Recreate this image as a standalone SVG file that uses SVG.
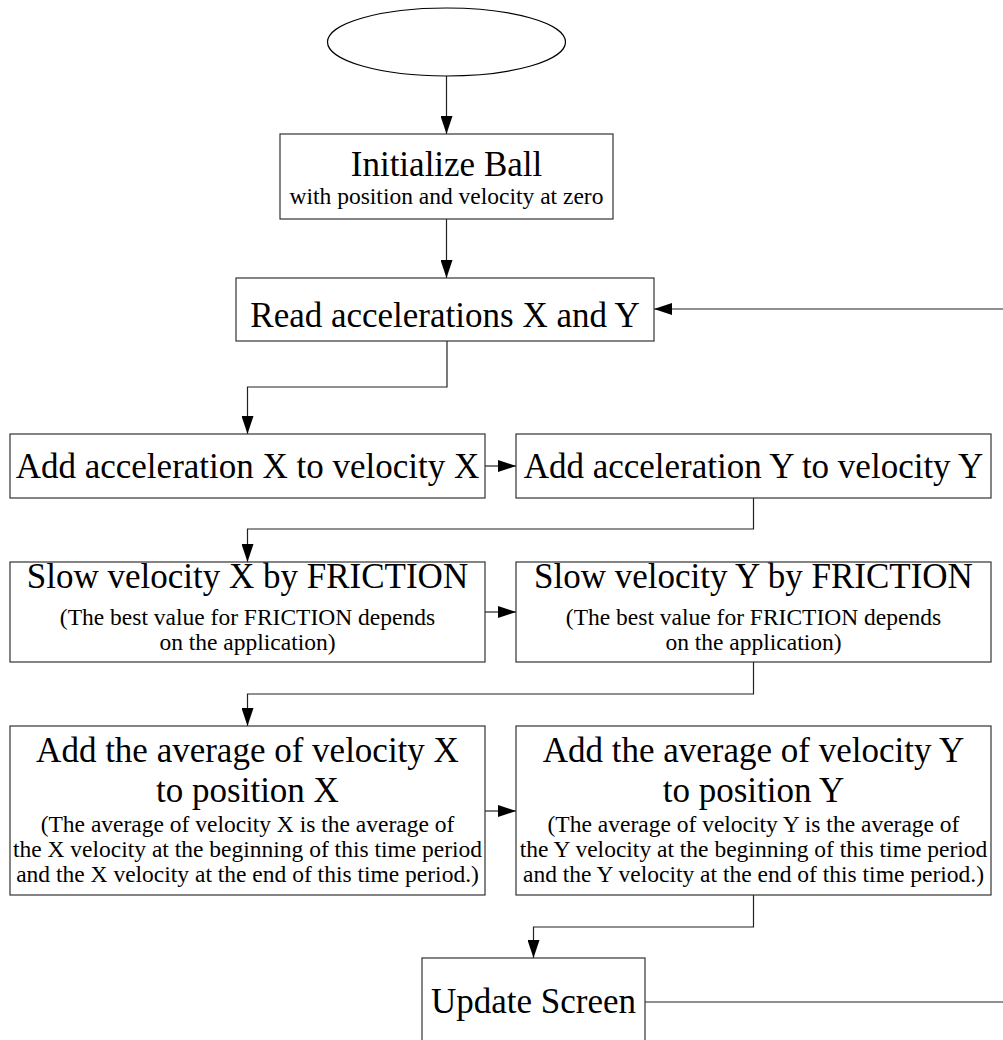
<svg xmlns="http://www.w3.org/2000/svg" width="1003" height="1040" viewBox="0 0 1003 1040">
<style>
.box{fill:#fff;stroke:#333;stroke-width:1.2}
.big{font-family:"Liberation Serif","Times New Roman",serif;font-size:35px;fill:#000;text-anchor:middle}
.small{font-family:"Liberation Serif","Times New Roman",serif;font-size:23.5px;fill:#000;text-anchor:middle}
.conn{fill:none;stroke:#222;stroke-width:1.2}
</style>
<defs>
<marker id="arrow" markerUnits="userSpaceOnUse" markerWidth="18" markerHeight="12" refX="18" refY="6" orient="auto">
<path d="M0,0 L18,6 L0,12 z" fill="#000"/>
</marker>
</defs>
<rect width="1003" height="1040" fill="#fff"/>
<g id="connectors">
<path class="conn" d="M446.5,76 V134" marker-end="url(#arrow)"/>
<path class="conn" d="M446.5,219 V278" marker-end="url(#arrow)"/>
<path class="conn" d="M447,341 V387 H247.5 V434" marker-end="url(#arrow)"/>
<path class="conn" d="M485,466 H516" marker-end="url(#arrow)"/>
<path class="conn" d="M753.5,498 V529 H247.5 V562" marker-end="url(#arrow)"/>
<path class="conn" d="M485,612 H516" marker-end="url(#arrow)"/>
<path class="conn" d="M753.5,662 V694 H247.5 V726" marker-end="url(#arrow)"/>
<path class="conn" d="M485,811 H516" marker-end="url(#arrow)"/>
<path class="conn" d="M753.5,895 V927 H533.5 V958" marker-end="url(#arrow)"/>
<path class="conn" d="M645,1002 H1010 V309 H654" marker-end="url(#arrow)"/>
</g>
<g id="start">
<ellipse cx="446.5" cy="42" rx="119" ry="34" fill="#fff" stroke="#000" stroke-width="1.2"/>
</g>
<g id="init">
<rect class="box" x="280" y="134" width="333" height="85"/>
<text class="big" x="446.5" y="176">Initialize Ball</text>
<text class="small" x="446.5" y="204">with position and velocity at zero</text>
</g>
<g id="read">
<rect class="box" x="236" y="278" width="418" height="63"/>
<text class="big" x="445" y="327">Read accelerations X and Y</text>
</g>
<g id="addX">
<rect class="box" x="10" y="434" width="475" height="64"/>
<text class="big" x="247.5" y="478">Add acceleration X to velocity X</text>
</g>
<g id="addY">
<rect class="box" x="516" y="434" width="475" height="64"/>
<text class="big" x="753.5" y="478">Add acceleration Y to velocity Y</text>
</g>
<g id="slowX">
<rect class="box" x="10" y="562" width="475" height="100"/>
<text class="big" x="247.5" y="588">Slow velocity X by FRICTION</text>
<text class="small" x="247.5" y="625">(The best value for FRICTION depends</text>
<text class="small" x="247.5" y="650">on the application)</text>
</g>
<g id="slowY">
<rect class="box" x="516" y="562" width="475" height="100"/>
<text class="big" x="753.5" y="588">Slow velocity Y by FRICTION</text>
<text class="small" x="753.5" y="625">(The best value for FRICTION depends</text>
<text class="small" x="753.5" y="650">on the application)</text>
</g>
<g id="avgX">
<rect class="box" x="10" y="726" width="475" height="169"/>
<text class="big" x="247.5" y="762">Add the average of velocity X</text>
<text class="big" x="247.5" y="802">to position X</text>
<text class="small" x="247.5" y="832">(The average of velocity X is the average of</text>
<text class="small" x="247.5" y="857">the X velocity at the beginning of this time period</text>
<text class="small" x="247.5" y="882">and the X velocity at the end of this time period.)</text>
</g>
<g id="avgY">
<rect class="box" x="516" y="726" width="475" height="169"/>
<text class="big" x="753.5" y="762">Add the average of velocity Y</text>
<text class="big" x="753.5" y="802">to position Y</text>
<text class="small" x="753.5" y="832">(The average of velocity Y is the average of</text>
<text class="small" x="753.5" y="857">the Y velocity at the beginning of this time period</text>
<text class="small" x="753.5" y="882">and the Y velocity at the end of this time period.)</text>
</g>
<g id="update">
<rect class="box" x="422" y="958" width="223" height="100"/>
<text class="big" x="533.5" y="1013">Update Screen</text>
</g>
</svg>
